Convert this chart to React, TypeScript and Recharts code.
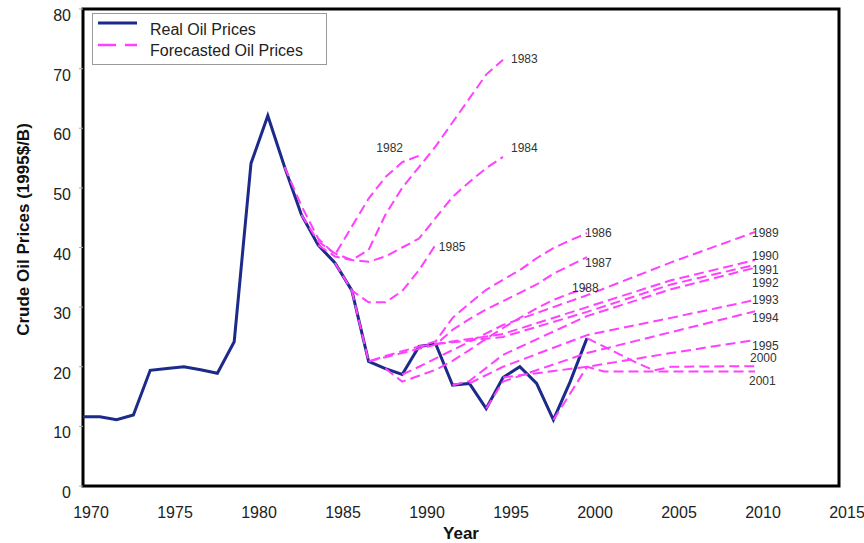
import React from "react";
import { LineChart, Line, XAxis, YAxis, ReferenceArea } from "recharts";

// real oil prices, 1995 $/barrel
const realYears = [
  1970, 1971, 1972, 1973, 1974, 1975, 1976, 1977, 1978, 1979, 1980, 1981, 1982, 1983, 1984, 1985,
  1986, 1987, 1988, 1989, 1990, 1991, 1992, 1993, 1994, 1995, 1996, 1997, 1998, 1999, 2000,
];
const realPrices = [
  11.6, 11.6, 11.1, 11.9, 19.4, 19.7, 20.0, 19.5, 18.9, 24.2, 54.1, 62.1, 53.5, 45.5, 40.4, 37.4,
  32.8, 20.9, 19.7, 18.7, 23.4, 23.8, 16.9, 17.2, 13.0, 18.2, 20.0, 17.2, 11.1, 17.5, 24.8,
];

// forecasts, one pair of arrays per forecast year
const fc1982Years = [1982, 1983, 1984, 1985, 1986, 1987, 1988, 1989, 1990];
const fc1982Prices = [53.5, 47.0, 41.5, 38.8, 43.5, 48.2, 51.8, 54.3, 55.4];
const fc1983Years = [1983, 1984, 1985, 1986, 1987, 1988, 1989, 1990, 1991, 1992, 1993, 1994, 1995];
const fc1983Prices = [45.5, 41.0, 39.0, 37.9, 39.6, 45.5, 50.0, 53.5, 57.0, 61.0, 65.0, 69.0, 71.5];
const fc1984Years = [1984, 1985, 1986, 1987, 1988, 1989, 1990, 1991, 1992, 1993, 1994, 1995];
const fc1984Prices = [40.4, 38.5, 37.9, 37.6, 38.5, 40.0, 41.5, 45.0, 48.5, 51.0, 53.3, 55.2];
const fc1985Years = [1985, 1986, 1987, 1988, 1989, 1990, 1991];
const fc1985Prices = [37.4, 32.8, 30.8, 30.8, 32.7, 36.2, 40.5];
const fc1986Years = [1986, 1987, 1988, 1989, 1990, 1991, 1992, 1993, 1994, 1995, 1996, 1997, 1998, 1999, 2000];
const fc1986Prices = [32.8, 20.9, 21.8, 22.6, 23.4, 24.3, 28.2, 30.6, 32.9, 34.6, 36.2, 38.2, 39.9, 41.2, 42.4];
const fc1987Years = [1987, 1988, 1989, 1990, 1991, 1992, 1993, 1994, 1995, 1996, 1997, 1998, 1999, 2000];
const fc1987Prices = [20.9, 21.6, 22.3, 23.0, 23.7, 26.2, 28.0, 29.6, 31.0, 32.4, 33.8, 35.6, 37.0, 38.4];
const fc1988Years = [1988, 1989, 1990, 1991, 1992, 1993, 1994, 1995, 1996, 1997, 1998, 1999, 2000];
const fc1988Prices = [19.7, 17.5, 18.5, 19.5, 21.0, 22.8, 24.7, 26.5, 28.2, 29.8, 31.2, 32.3, 33.2];
const fc1989Years = [1989, 1990, 1991, 1992, 1993, 1994, 1995, 2000, 2005, 2010];
const fc1989Prices = [18.7, 20.0, 21.4, 22.8, 24.2, 25.6, 27.0, 32.0, 37.5, 42.6];
const fc1990Years = [1990, 1995, 2000, 2005, 2010];
const fc1990Prices = [23.4, 25.5, 30.0, 34.5, 37.9];
const fc1991Years = [1991, 1995, 2000, 2005, 2010];
const fc1991Prices = [23.8, 25.0, 29.2, 33.8, 37.1];
const fc1992Years = [1992, 1993, 1995, 2000, 2005, 2010];
const fc1992Prices = [16.9, 17.6, 22.0, 28.5, 33.0, 36.6];
const fc1993Years = [1993, 1995, 2000, 2005, 2010];
const fc1993Prices = [17.2, 20.0, 25.3, 28.2, 31.2];
const fc1994Years = [1994, 1995, 2000, 2005, 2010];
const fc1994Prices = [13.0, 17.5, 22.3, 25.8, 29.3];
const fc1995Years = [1995, 2000, 2005, 2010];
const fc1995Prices = [18.2, 20.0, 22.3, 24.5];
const fc2000Years = [2000, 2001, 2002, 2003, 2004, 2005, 2010];
const fc2000Prices = [24.8, 23.4, 22.0, 20.6, 19.4, 20.0, 20.1];
const fc2001Years = [1998, 1999, 2000, 2001, 2005, 2010];
const fc2001Prices = [11.1, 15.5, 20.0, 19.2, 19.2, 19.2];

const xTicks = [1970, 1975, 1980, 1985, 1990, 1995, 2000, 2005, 2010, 2015];
const yTicks = [0, 10, 20, 30, 40, 50, 60, 70, 80];

const toRows = (years: number[], prices: number[]) =>
  years.map((year, i) => ({ year, price: prices[i] }));

const forecasts = [
  { name: "1982", data: toRows(fc1982Years, fc1982Prices) },
  { name: "1983", data: toRows(fc1983Years, fc1983Prices) },
  { name: "1984", data: toRows(fc1984Years, fc1984Prices) },
  { name: "1985", data: toRows(fc1985Years, fc1985Prices) },
  { name: "1986", data: toRows(fc1986Years, fc1986Prices) },
  { name: "1987", data: toRows(fc1987Years, fc1987Prices) },
  { name: "1988", data: toRows(fc1988Years, fc1988Prices) },
  { name: "1989", data: toRows(fc1989Years, fc1989Prices) },
  { name: "1990", data: toRows(fc1990Years, fc1990Prices) },
  { name: "1991", data: toRows(fc1991Years, fc1991Prices) },
  { name: "1992", data: toRows(fc1992Years, fc1992Prices) },
  { name: "1993", data: toRows(fc1993Years, fc1993Prices) },
  { name: "1994", data: toRows(fc1994Years, fc1994Prices) },
  { name: "1995", data: toRows(fc1995Years, fc1995Prices) },
  { name: "2000", data: toRows(fc2000Years, fc2000Prices) },
  { name: "2001", data: toRows(fc2001Years, fc2001Prices) },
];

// where each year label sits relative to the end of its line: [dx, dy, anchor]
const labelOffsets: Record<string, [number, number, string]> = {
  "1982": [-16, -4, "end"],
  "1983": [8, 3, "start"],
  "1984": [8, -5, "start"],
  "1985": [3, 6, "start"],
  "1986": [-2, 4, "start"],
  "1987": [-2, 10, "start"],
  "1988": [-15, 4, "start"],
  "1989": [-3, 5, "start"],
  "1990": [-3, 0, "start"],
  "1991": [-3, 9, "start"],
  "1992": [-3, 19, "start"],
  "1993": [-3, 4, "start"],
  "1994": [-3, 11, "start"],
  "1995": [-3, 10, "start"],
  "2000": [-5, -4, "start"],
  "2001": [-6, 13, "start"],
};

const BLUE = "#1C2A8A";
const PINK = "#FF40FF";
const FONT = "'Liberation Sans', Arial, sans-serif";

const XTick = ({ x, y, payload }: any) => (
  <text x={x + 8} y={y + 32} textAnchor="middle" fontSize={16} fill="#222" fontFamily={FONT}>
    {payload.value}
  </text>
);

const YTick = ({ x, y, payload }: any) => (
  <text x={x - 8} y={y + 12} textAnchor="end" fontSize={16} fill="#222" fontFamily={FONT}>
    {payload.value}
  </text>
);

const endLabel = (name: string, last: number) => (props: any) => {
  if (props.index !== last) return null;
  const [dx, dy, anchor] = labelOffsets[name];
  return (
    <text
      x={props.x + dx}
      y={props.y + dy}
      textAnchor={anchor}
      fontSize={12}
      fill="#333"
      fontFamily={FONT}
    >
      {name}
    </text>
  );
};

const YTitle = ({ viewBox }: any) => (
  <text
    transform={`translate(${viewBox.x + 29}, ${viewBox.y + viewBox.height / 2 - 18}) rotate(-90)`}
    textAnchor="middle"
    fontSize={17}
    fontWeight="bold"
    fill="#111"
    fontFamily={FONT}
  >
    Crude Oil Prices (1995$/B)
  </text>
);

const XTitle = ({ viewBox }: any) => (
  <text
    x={viewBox.x + viewBox.width / 2}
    y={viewBox.y + 53}
    textAnchor="middle"
    fontSize={17}
    fontWeight="bold"
    fill="#111"
    fontFamily={FONT}
  >
    Year
  </text>
);

function ChartLegend() {
  return (
    <div
      style={{
        position: "absolute",
        left: 92,
        top: 13,
        width: 235,
        height: 52,
        border: "1px solid #999",
        boxSizing: "border-box",
        background: "#fff",
      }}
    >
      <svg width={235} height={52} style={{ position: "absolute", left: -1, top: -1 }}>
        <line x1={6} x2={45} y1={10} y2={10} stroke={BLUE} strokeWidth={3} />
        <text x={58} y={22} fontSize={16} fill="#222" fontFamily={FONT}>
          Real Oil Prices
        </text>
        <line x1={6} x2={45} y1={32} y2={32} stroke={PINK} strokeWidth={2.5} strokeDasharray="18 9" />
        <text x={58} y={43} fontSize={16} fill="#222" fontFamily={FONT}>
          Forecasted Oil Prices
        </text>
      </svg>
    </div>
  );
}

export default function App() {
  const realData = toRows(realYears, realPrices);
  return (
    <div
      style={{
        position: "absolute",
        left: 0,
        top: 0,
        width: 864,
        height: 543,
        background: "#fff",
        fontFamily: FONT,
      }}
    >
      <LineChart width={864} height={543} margin={{ top: 9, right: 25, bottom: 0, left: 0 }}>
        <XAxis
          dataKey="year"
          type="number"
          domain={[1970, 2015]}
          ticks={xTicks}
          axisLine={false}
          tickLine={false}
          tickSize={0}
          tickMargin={0}
          height={57}
          tick={<XTick />}
          allowDuplicatedCategory={false}
          label={{ content: <XTitle /> }}
        />
        <YAxis
          type="number"
          domain={[0, 80]}
          ticks={yTicks}
          axisLine={false}
          tickLine={{ stroke: "#aaa" }}
          tickSize={4}
          tickMargin={0}
          width={83}
          tick={<YTick />}
          label={{ content: <YTitle /> }}
        />
        <Line
          data={realData}
          dataKey="price"
          stroke={BLUE}
          strokeWidth={3}
          dot={false}
          activeDot={false}
          isAnimationActive={false}
        />
        {forecasts.map((f) => (
          <Line
            key={f.name}
            data={f.data}
            dataKey="price"
            stroke={PINK}
            strokeWidth={2}
            strokeDasharray="10 5"
            dot={false}
            activeDot={false}
            isAnimationActive={false}
            label={endLabel(f.name, f.data.length - 1)}
          />
        ))}
        <ReferenceArea
          x1={1970}
          x2={2015}
          y1={0}
          y2={80}
          fill="none"
          stroke="#000"
          strokeWidth={3}
          ifOverflow="visible"
        />
      </LineChart>
      <ChartLegend />
    </div>
  );
}
